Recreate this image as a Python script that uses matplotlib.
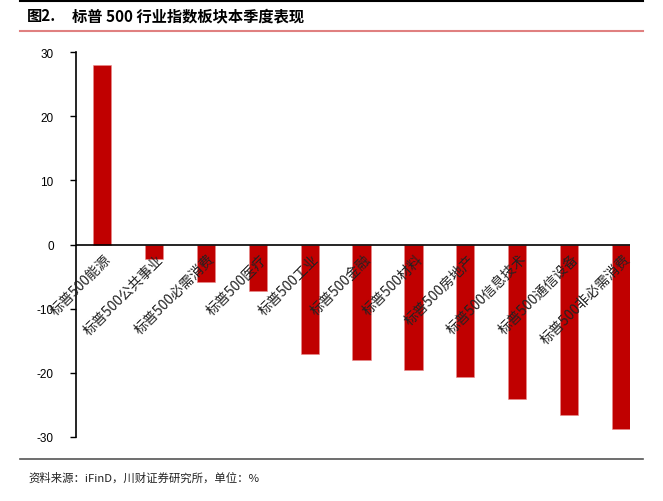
import matplotlib
matplotlib.use("Agg")
import matplotlib.pyplot as plt
from matplotlib.lines import Line2D

plt.rcParams['font.family'] = ['Noto Sans CJK SC', 'DejaVu Sans']

categories = ['标普500能源', '标普500公共事业', '标普500必需消费', '标普500医疗', '标普500工业',
              '标普500金融', '标普500材料', '标普500房地产', '标普500信息技术', '标普500通信设备',
              '标普500非必需消费']
values = [28.0, -2.3, -5.9, -7.3, -17.0, -18.0, -19.5, -20.6, -24.0, -26.6, -28.7]
yticks = [-30, -20, -10, 0, 10, 20, 30]

fig = plt.figure(figsize=(6.63, 5.02), dpi=100)
ax = fig.add_axes([76/663, 1-438/502, (630-76)/663, (438-53)/502])

x = list(range(len(categories)))
ax.bar(x, values, width=0.35, color='#C00000', edgecolor='#E88A8A', linewidth=0.4, zorder=2)
ax.axhline(0, color='black', linewidth=1.2, zorder=3)

ax.set_ylim(-30, 30)
ax.set_xlim(-0.5, 10.17)
ax.set_yticks(yticks)
ax.set_yticklabels([str(v) for v in yticks], family='Liberation Sans', fontsize=8.5)
ax.tick_params(axis='y', direction='out', length=4, width=1, pad=12)
ax.set_xticks([])
for s in ['top', 'right', 'bottom']:
    ax.spines[s].set_visible(False)
ax.spines['left'].set_linewidth(1.2)

for i, c in enumerate(categories):
    ax.annotate(c, xy=(i, 0), xytext=(1.5, -5), textcoords='offset points',
                rotation=45, rotation_mode='anchor', ha='right', va='top',
                fontsize=10, color='#222222', zorder=4)

# header lines and title
fig.add_artist(Line2D([20/663, 643/663], [1-1.5/502, 1-1.5/502], color='black', linewidth=1.5))
fig.add_artist(Line2D([20/663, 643/663], [1-32/502, 1-32/502], color='#E08080', linewidth=1.5))
fig.text(27/663, 1-16/502, '图2.', fontsize=11, fontweight='bold', va='center', ha='left')
fig.text(72/663, 1-16/502, '标普 500 行业指数板块本季度表现', fontsize=11, fontweight='bold',
         va='center', ha='left')

# footer
fig.add_artist(Line2D([20/663, 643/663], [1-460/502, 1-460/502], color='#555555', linewidth=1.2))
fig.text(28/663, 1-478/502, '资料来源：iFinD，川财证券研究所，单位：%', fontsize=8.2,
         style='italic', va='center', ha='left', color='#222222')

fig.savefig('out.png', dpi=100)
